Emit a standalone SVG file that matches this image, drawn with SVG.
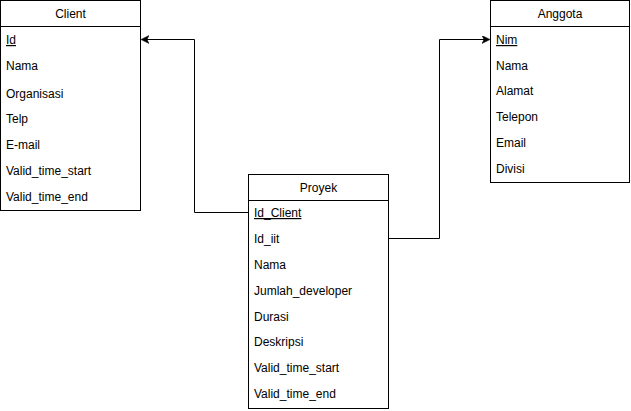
<svg xmlns="http://www.w3.org/2000/svg" width="631" height="411" viewBox="0 0 631 411">
<style>
.box{fill:#ffffff;stroke:#000000;stroke-width:1}
.t{font-family:"Liberation Sans",Arial,sans-serif;font-size:12px;fill:#000000}
.h{text-anchor:middle}
.u{text-decoration:underline}
.c{fill:none;stroke:#000000;stroke-width:1}
</style>
<defs>
<marker id="arr" markerWidth="10" markerHeight="10" refX="7" refY="4" orient="auto" markerUnits="userSpaceOnUse">
<path d="M0,0 L8,4 L0,8 L2,4 Z" fill="#000000" stroke="#000000" stroke-width="0.5"/>
</marker>
</defs>
<rect width="631" height="411" fill="#ffffff"/>
<g id="connectors">
<path class="c" d="M248.5,212.5 H194.5 V39.5 H142" marker-end="url(#arr)"/>
<path class="c" d="M388.5,238.5 H439.5 V39.5 H489" marker-end="url(#arr)"/>
</g>
<g id="client">
<rect class="box" x="0.5" y="0.5" width="140" height="210"/>
<line class="c" x1="0.5" y1="26.5" x2="140.5" y2="26.5"/>
<text class="t h" x="70.5" y="18">Client</text>
<text class="t u" x="6" y="44">Id</text>
<text class="t" x="6" y="70">Nama</text>
<text class="t" x="6" y="98">Organisasi</text>
<text class="t" x="6" y="123">Telp</text>
<text class="t" x="6" y="149">E-mail</text>
<text class="t" x="6" y="175">Valid_time_start</text>
<text class="t" x="6" y="201">Valid_time_end</text>
</g>
<g id="proyek">
<rect class="box" x="248.5" y="174.5" width="140" height="234"/>
<line class="c" x1="248.5" y1="200.5" x2="388.5" y2="200.5"/>
<text class="t h" x="318.5" y="192">Proyek</text>
<text class="t u" x="254" y="217">Id_Client</text>
<text class="t" x="254" y="243">Id_iit</text>
<text class="t" x="254" y="269">Nama</text>
<text class="t" x="254" y="295">Jumlah_developer</text>
<text class="t" x="254" y="321">Durasi</text>
<text class="t" x="254" y="346">Deskripsi</text>
<text class="t" x="254" y="372">Valid_time_start</text>
<text class="t" x="254" y="398">Valid_time_end</text>
</g>
<g id="anggota">
<rect class="box" x="490.5" y="0.5" width="139" height="182"/>
<line class="c" x1="490.5" y1="26.5" x2="629.5" y2="26.5"/>
<text class="t h" x="560" y="18">Anggota</text>
<text class="t u" x="496" y="44">Nim</text>
<text class="t" x="496" y="70">Nama</text>
<text class="t" x="496" y="95">Alamat</text>
<text class="t" x="496" y="121">Telepon</text>
<text class="t" x="496" y="147">Email</text>
<text class="t" x="496" y="173">Divisi</text>
</g>
</svg>
